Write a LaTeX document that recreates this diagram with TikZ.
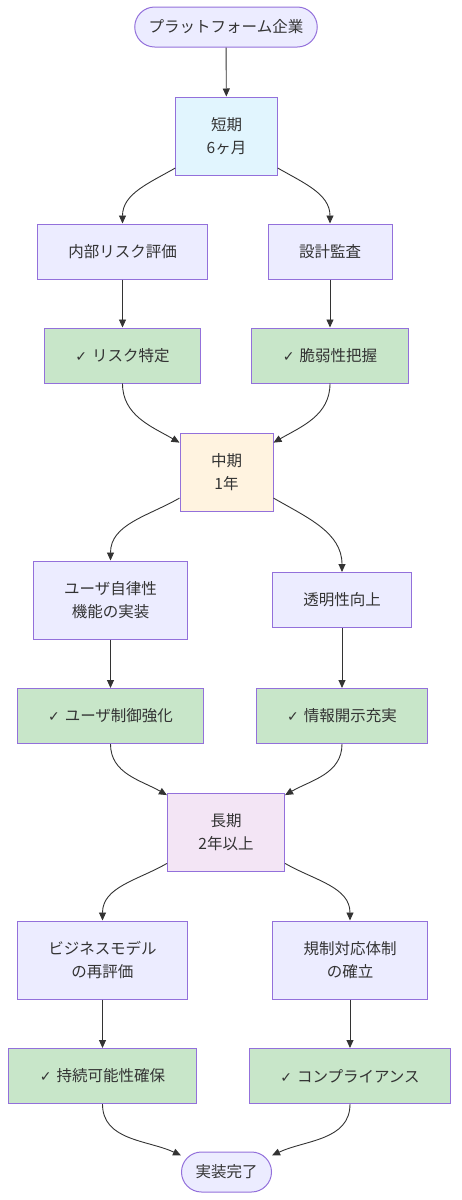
\documentclass[tikz,border=0pt]{standalone}
\usepackage{fontspec}
\setmainfont{Noto Sans CJK JP}
\newfontfamily\symfont{DejaVu Sans}
\usetikzlibrary{arrows.meta}
\definecolor{ink}{HTML}{333333}
\definecolor{edge}{HTML}{9370DB}
\definecolor{procfill}{HTML}{ECECFF}
\definecolor{okfill}{HTML}{C8E6C9}
\definecolor{shortfill}{HTML}{E1F5FE}
\definecolor{midfill}{HTML}{FFF3E0}
\definecolor{longfill}{HTML}{F3E5F5}
\newcommand*{\chk}{{\symfont\fontsize{14}{14}\selectfont ✓}\hspace{5pt}}
\tikzset{
  base/.style = {draw = edge, line width = 1pt, text = ink, align = center,
    font = \fontsize{15.5}{23}\selectfont},
  proc/.style = {base, fill = procfill, inner xsep = 31pt, minimum height = 55pt},
  okbox/.style = {proc, fill = okfill},
  phase/.style = {proc, fill = #1, minimum height = 78pt},
  term/.style = {base, fill = procfill, rounded corners = 20pt,
    inner xsep = 14pt, minimum height = 40pt},
  flow/.style = {draw = ink, line width = 0.9pt, -{Triangle[length=8pt,width=7pt]}}
}
\begin{document}
\begin{tikzpicture}[x=1pt, y=1pt]
  \useasboundingbox (0,0) rectangle (461,-1200);
  % nodes
  \node[term] (start) at (226,-27) {プラットフォーム企業};
  \node[phase=shortfill] (short) at (226.5,-136) {短期\\6ヶ月};
  \node[proc] (risk) at (122.5,-251.5) {内部リスク評価};
  \node[proc] (audit) at (330,-251.5) {設計監査};
  \node[okbox] (riskok) at (122.5,-355.5) {\chk リスク特定};
  \node[okbox] (vulnok) at (330,-355.5) {\chk 脆弱性把握};
  \node[phase=midfill] (mid) at (226.5,-472) {中期\\1年};
  \node[proc, minimum height = 78pt] (autonomy) at (110.5,-600) {ユーザ自律性\\機能の実装};
  \node[proc] (trans) at (342,-600) {透明性向上};
  \node[okbox] (ctrlok) at (110.5,-716) {\chk ユーザ制御強化};
  \node[okbox] (discok) at (342,-716) {\chk 情報開示充実};
  \node[phase=longfill] (long) at (226,-832) {長期\\2年以上};
  \node[proc, minimum height = 78pt] (biz) at (102.5,-960) {ビジネスモデル\\の再評価};
  \node[proc, minimum height = 78pt] (reg) at (350,-960) {規制対応体制\\の確立};
  \node[okbox] (susok) at (102.5,-1076) {\chk 持続可能性確保};
  \node[okbox] (compok) at (350,-1076) {\chk コンプライアンス};
  \node[term] (done) at (226.5,-1172) {実装完了};
  % connectors
  \draw[flow] (start) -- (short);
  \draw[flow] (short.212) to[out=210, in=90] (risk.north);
  \draw[flow] (short.328) to[out=330, in=90] (audit.north);
  \draw[flow] (risk) -- (riskok);
  \draw[flow] (audit) -- (vulnok);
  \draw[flow] (riskok.south) to[out=-90, in=150] (mid.148);
  \draw[flow] (vulnok.south) to[out=-90, in=30] (mid.32);
  \draw[flow] (mid.209) to[out=210, in=90] (autonomy.north);
  \draw[flow] (mid.331) to[out=330, in=90] (trans.north);
  \draw[flow] (autonomy) -- (ctrlok);
  \draw[flow] (trans) -- (discok);
  \draw[flow] (ctrlok.south) to[out=-90, in=150] (long.148);
  \draw[flow] (discok.south) to[out=-90, in=30] (long.32);
  \draw[flow] (long.208) to[out=210, in=90] (biz.north);
  \draw[flow] (long.332) to[out=330, in=90] (reg.north);
  \draw[flow] (biz) -- (susok);
  \draw[flow] (reg) -- (compok);
  \draw[flow] (susok.south) to[out=-90, in=155] (done.160);
  \draw[flow] (compok.south) to[out=-90, in=25] (done.20);
\end{tikzpicture}
\end{document}
